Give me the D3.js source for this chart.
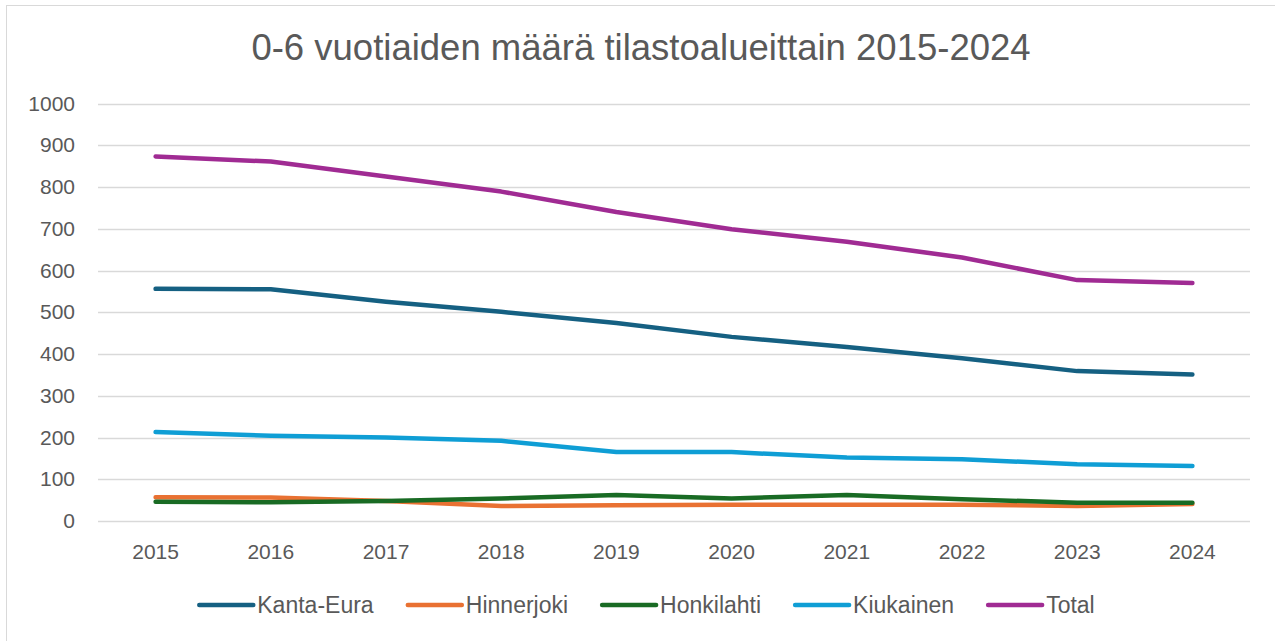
<!DOCTYPE html>
<html>
<head>
<meta charset="utf-8">
<script src="https://cdn.jsdelivr.net/npm/d3@7"></script>
<style>
  body { margin: 0; background: #fff; }
  text { font-family: "Liberation Sans", Arial, sans-serif; fill: #595959; }
</style>
</head>
<body>
<svg width="1275" height="641"></svg>
<script>
const years = ["2015", "2016", "2017", "2018", "2019", "2020", "2021", "2022", "2023", "2024"];
const kantaEura = [556, 555, 525, 501, 474, 441, 417, 390, 359, 351];
const hinnerjoki = [57, 56, 48, 36, 38, 39, 39, 39, 36, 41];
const honkilahti = [46, 45, 48, 54, 62, 54, 62, 52, 44, 44];
const kiukainen = [213, 204, 200, 192, 165, 165, 152, 148, 136, 132];
const total = [873, 861, 825, 789, 740, 699, 669, 631, 577, 570];
const yTicks = [0, 100, 200, 300, 400, 500, 600, 700, 800, 900, 1000];

const series = [
    { name: "Kanta-Eura", values: kantaEura, color: "#156082" },
    { name: "Hinnerjoki", values: hinnerjoki, color: "#E97132" },
    { name: "Honkilahti", values: honkilahti, color: "#196B24" },
    { name: "Kiukainen", values: kiukainen, color: "#0F9ED5" },
    { name: "Total", values: total, color: "#A02B93" }
];

var svg = d3.select("svg");

// chart frame
svg.append("rect")
    .attr("x", 6.5).attr("y", 5.5)
    .attr("width", 1280).attr("height", 640)
    .attr("fill", "none")
    .attr("stroke", "#d9d9d9");

svg.append("text")
    .attr("x", 641).attr("y", 60)
    .attr("text-anchor", "middle")
    .style("font-size", "36.5px")
    .text("0-6 vuotiaiden määrä tilastoalueittain 2015-2024");

var x = d3.scaleBand().domain(years).range([98, 1250]);
var y = d3.scaleLinear().domain([0, 1000]).range([521, 103.5]);

// gridlines
svg.append("g")
    .selectAll("line")
    .data(yTicks)
    .enter().append("line")
    .attr("x1", 98).attr("x2", 1250)
    .attr("y1", d => Math.round(y(d)) + 0.5)
    .attr("y2", d => Math.round(y(d)) + 0.5)
    .attr("stroke", "#d9d9d9")
    .attr("stroke-width", 1.3);

var yAxis = svg.append("g")
    .attr("transform", "translate(98,0)")
    .call(d3.axisLeft(y).tickValues(yTicks).tickFormat(d3.format("d")).tickSize(0).tickPadding(23));
yAxis.select(".domain").remove();
yAxis.selectAll("text").style("font-size", "21px").attr("fill", "#595959");

var xAxis = svg.append("g")
    .attr("transform", "translate(0,521)")
    .call(d3.axisBottom(x).tickSize(0).tickPadding(23));
xAxis.select(".domain").remove();
xAxis.selectAll("text").style("font-size", "21px").attr("fill", "#595959");

var line = d3.line()
    .x((d, i) => x(years[i]) + x.bandwidth() / 2)
    .y(d => y(d));

svg.append("g")
    .selectAll("path")
    .data(series)
    .enter().append("path")
    .attr("d", d => line(d.values))
    .attr("fill", "none")
    .attr("stroke", d => d.color)
    .attr("stroke-width", 4.5)
    .attr("stroke-linecap", "round")
    .attr("stroke-linejoin", "round");

// legend
var legend = svg.append("g");
var items = legend.selectAll("g")
    .data(series)
    .enter().append("g");
items.append("line")
    .attr("x1", 2).attr("x2", 56)
    .attr("y1", 0).attr("y2", 0)
    .attr("stroke", d => d.color)
    .attr("stroke-width", 4.5)
    .attr("stroke-linecap", "round");
items.append("text")
    .attr("x", 60).attr("y", 8)
    .style("font-size", "23px")
    .text(d => d.name);

var offset = 0;
items.each(function() {
    var w = this.getBBox().width;
    d3.select(this).attr("transform", "translate(" + offset + ",0)");
    offset += w + 34;
});
var legendWidth = offset - 34;
legend.attr("transform", "translate(" + (645 - legendWidth / 2) + ",605)");
</script>
</body>
</html>
